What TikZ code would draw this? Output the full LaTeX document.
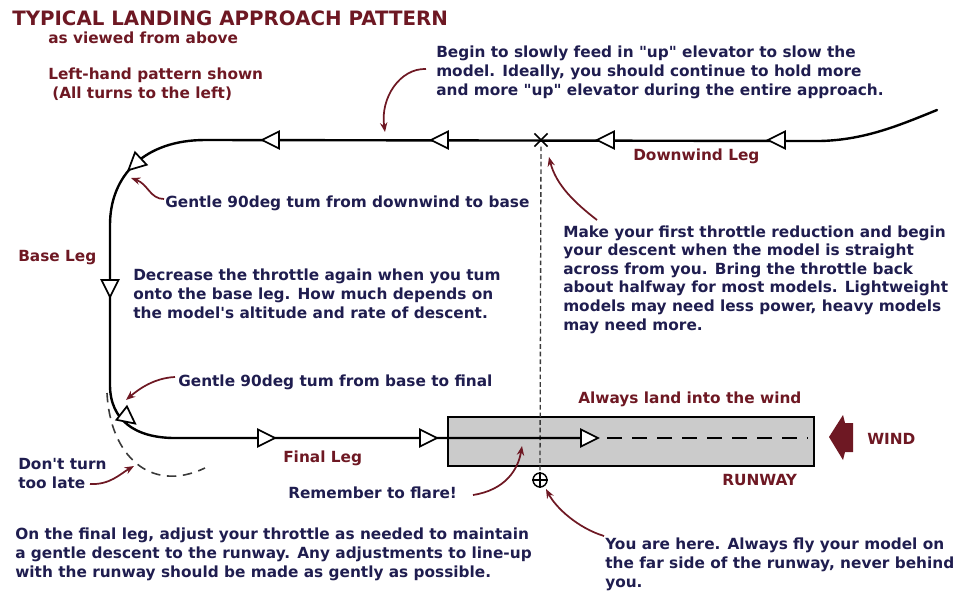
\documentclass[tikz,border=0pt]{standalone}
\usepackage{fontspec}
\setmainfont{DejaVu Sans}[Ligatures=TeXOff]
\usetikzlibrary{arrows.meta,shapes.misc}
\definecolor{navy}{HTML}{1F1D4F}
\definecolor{dred}{HTML}{6E1823}
\definecolor{rwgray}{HTML}{CBCBCB}
\definecolor{dgray}{HTML}{3A3A3A}
\tikzset{
  body/.style={font=\bfseries\fontsize{11.5}{13.9}\selectfont, text=navy, inner sep=0pt, anchor=base west, align=left},
  redlbl/.style={body, text=dred},
  flight/.style={line width=1.8pt, line cap=round, line join=round},
  note/.style={draw=dred, line width=1.3pt, -{Stealth[length=7pt,width=5.5pt]}},
  tri/.pic={\draw[line width=1.3pt, fill=white, line join=miter] (9,0) -- (-8,-8.5) -- (-8,8.5) -- cycle;}
}
\begin{document}
\begin{tikzpicture}[x=0.75pt,y=-0.75pt]
\useasboundingbox (0,0) rectangle (961,590);

% ---- texts (multi-line nodes: base = baseline of last line)
\node[redlbl, font=\bfseries\fontsize{14.85}{16}\selectfont] (title) at (12,25) {TYPICAL LANDING APPROACH PATTERN};
\node[redlbl] (subtitle) at (48,43) {as viewed from above};
\node[redlbl] (lhp) at (48,98) {Left-hand pattern shown\\\hspace{3pt}(All turns to the left)};
\node[body] (begin) at (436,95) {Begin to slowly feed in "up" elevator to slow the\\model. Ideally, you should continue to hold more\\and more "up" elevator during the entire approach.};
\node[redlbl] (dwl) at (633,160) {Downwind Leg};
\node[body] (g1) at (165,207) {Gentle 90deg tum from downwind to base};
\node[redlbl] (baseleg) at (18,261) {Base Leg};
\node[body] (decr) at (133,318) {Decrease the throttle again when you tum\\onto the base leg. How much depends on\\the model's altitude and rate of descent.};
\node[body] (make) at (563,330) {Make your first throttle reduction and begin\\your descent when the model is straight\\across from you. Bring the throttle back\\about halfway for most models. Lightweight\\models may need less power, heavy models\\may need more.};
\node[body] (g2) at (178,386) {Gentle 90deg tum from base to final};
\node[redlbl] (always) at (578,403) {Always land into the wind};
\node[redlbl] (wind) at (867,444) {WIND};
\node[redlbl] (finleg) at (283,462) {Final Leg};
\node[body] (dont) at (18,488) {Don't turn\\too late};
\node[redlbl] (rwlbl) at (722,485) {RUNWAY};
\node[body] (flare) at (288,498) {Remember to flare!};
\node[body] (onfinal) at (15,577) {On the final leg, adjust your throttle as needed to maintain\\a gentle descent to the runway. Any adjustments to line-up\\with the runway should be made as gently as possible.};
\node[body] (youhere) at (605,587) {You are here. Always fly your model on\\the far side of the runway, never behind\\you.};

% ---- runway
\node[draw, line width=1.6pt, fill=rwgray, minimum width=274.5pt, minimum height=36.75pt, inner sep=0pt, anchor=north west] (rw) at (447,416) {};
\coordinate (cl1) at (607,438);
\coordinate (cl2) at (808,438);
\draw[line width=1.3pt, dash pattern=on 11.25pt off 7.5pt] (cl1) -- (cl2);

% ---- observer and line of sight
\node[cross out, draw, line width=1.3pt, minimum size=8.5pt, inner sep=0pt] (xmark) at (541,140) {};
\node[circle, draw, line width=1.1pt, minimum size=10.5pt, inner sep=0pt] (me) at (540,480) {};
\draw[line width=1.1pt] (me.north) -- (me.south) (me.west) -- (me.east);
\draw[dgray, line width=1pt, dash pattern=on 3.5pt off 2.2pt] (xmark.south) -- (me.north);

% ---- flight path
\coordinate (dwS) at (937,110);
\coordinate (dwA) at (820,141);
\coordinate (dwB) at (205,140);
\coordinate (bsA) at (110,225);
\coordinate (bsB) at (110,385);
\coordinate (fnA) at (175,438);
\coordinate (fnB) at (590,438);
\draw[flight] (dwS) .. controls (900,125) and (865,140) .. (dwA) -- (dwB)
  .. controls (145,140) and (110,175) .. (bsA) -- (bsB)
  .. controls (110,420) and (135,438) .. (fnA) -- (fnB);

\pic[rotate=180] at (777,140) {tri};
\pic[rotate=180] at (606,140) {tri};
\pic[rotate=180] at (440,140) {tri};
\pic[rotate=180] at (271,140) {tri};
\pic[rotate=-137] at (135,164) {tri};
\pic[rotate=-90] at (110,288) {tri};
\pic[rotate=-38] at (128,418) {tri};
\pic at (266,438) {tri};
\pic at (428,438) {tri};
\pic at (589,438) {tri};

% ---- "don't turn too late" arc
\coordinate (late1) at (107,393);
\coordinate (late2) at (205,468);
\draw[dgray, line width=1.2pt, dash pattern=on 7pt off 5pt] (late1) .. controls (110,455) and (150,494) .. (late2);

% ---- wind arrow
\fill[dred] (829,437) -- (843,415) -- (845,423) -- (853,423) -- (853,452) -- (845,452) -- (843,460) -- cycle;

% ---- annotation arrows
\coordinate (a1s) at (426,69);  \coordinate (a1e) at (385,132);
\coordinate (a2s) at (164,199); \coordinate (a2e) at (131,178);
\coordinate (a3s) at (597,220); \coordinate (a3e) at (549,157);
\coordinate (a4s) at (175,377); \coordinate (a4e) at (126,400);
\coordinate (a5s) at (90,484);  \coordinate (a5e) at (134,466);
\coordinate (a6s) at (473,495); \coordinate (a6e) at (522,446);
\coordinate (a7s) at (604,536); \coordinate (a7e) at (546,489);
\draw[note] (a1s) .. controls (400,68) and (380,98) .. (a1e);
\draw[note] (a2s) .. controls (150,199) and (148,184) .. (a2e);
\draw[note] (a3s) .. controls (575,203) and (556,185) .. (a3e);
\draw[note] (a4s) .. controls (155,378) and (140,388) .. (a4e);
\draw[note] (a5s) .. controls (110,485) and (120,474) .. (a5e);
\draw[note] (a6s) .. controls (505,490) and (518,470) .. (a6e);
\draw[note] (a7s) .. controls (578,528) and (556,508) .. (a7e);
\end{tikzpicture}
\end{document}
